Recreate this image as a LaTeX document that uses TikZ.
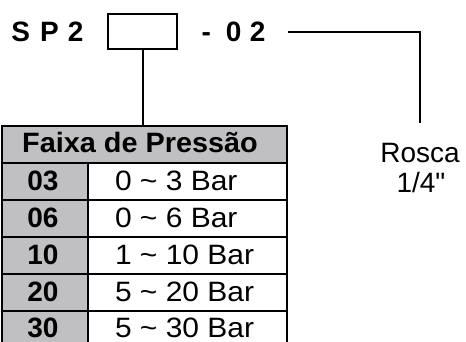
\documentclass[tikz,border=0pt]{standalone}
\usepackage{fontspec}
\setmainfont{Liberation Sans}
\newfontfamily\stfont[FakeStretch=1.03]{Liberation Sans}
\newfontfamily\valfont[FakeStretch=1.07]{Liberation Sans}
\newfontfamily\qfont[Ligatures=TeXOff]{Liberation Sans}
\definecolor{cellgray}{RGB}{192,192,195}
\begin{document}
\begin{tikzpicture}[x=1pt,y=-1pt,line width=2pt,
  codetxt/.style={inner sep=0pt,anchor=base west,font=\bfseries\fontsize{28}{30}\selectfont},
  cellbox/.style={draw,inner sep=0pt,anchor=north west,minimum height=37pt},
  headcell/.style={cellbox,fill=cellgray,minimum width=285pt},
  numcell/.style={cellbox,fill=cellgray,minimum width=86pt},
  valcell/.style={cellbox,fill=white,minimum width=199pt},
  headtxt/.style={inner sep=0pt,anchor=base,font=\stfont\bfseries\fontsize{28}{30}\selectfont},
  numtxt/.style={inner sep=0pt,anchor=base,font=\bfseries\fontsize{28}{30}\selectfont},
  valtxt/.style={inner sep=0pt,anchor=base west,font=\valfont\fontsize{28}{30}\selectfont},
  label/.style={inner sep=0pt,anchor=base,font=\qfont\fontsize{28}{30}\selectfont}
]
\useasboundingbox (0,0) rectangle (466,342);
\clip (0,0) rectangle (466,342);

% code line
\node[codetxt] (sp) at (10.5,42) {S\hspace{10pt}P\hspace{9pt}2};
\node[draw,inner sep=0pt,minimum width=69pt,minimum height=35pt] (box) at (142.5,31.5) {};
\node[codetxt] (suffix) at (200.5,42) {-\hspace{15pt}0\hspace{8.5pt}2};

% thread label
\node[label] (rosca) at (420,162.5) {Rosca};
\node[label] (thread) at (421,193) {1/4"};
\coordinate (rs) at (288,32);
\draw (rs) -| ([yshift=19.5pt]rosca.north);

% table cells
\node[headcell] (head) at (1,125) {};
\node[numcell] (n1) at (1,162) {};
\node[valcell] (v1) at (87,162) {};
\node[numcell] (n2) at (1,199) {};
\node[valcell] (v2) at (87,199) {};
\node[numcell] (n3) at (1,236) {};
\node[valcell] (v3) at (87,236) {};
\node[numcell] (n4) at (1,273) {};
\node[valcell] (v4) at (87,273) {};
\node[numcell] (n5) at (1,310) {};
\node[valcell] (v5) at (87,310) {};

% table texts
\node[headtxt] (headt) at (140,153) {Faixa de Pressão};
\node[numtxt] (n1t) at (43,190.5) {03};
\node[valtxt] (v1t) at (114,190.5) {0 \char"007E{} 3 Bar};
\node[numtxt] (n2t) at (43,227.5) {06};
\node[valtxt] (v2t) at (114,227.5) {0 \char"007E{} 6 Bar};
\node[numtxt] (n3t) at (43,264.5) {10};
\node[valtxt] (v3t) at (114,264.5) {1 \char"007E{} 10 Bar};
\node[numtxt] (n4t) at (43,301.5) {20};
\node[valtxt] (v4t) at (114,301.5) {5 \char"007E{} 20 Bar};
\node[numtxt] (n5t) at (43,337.5) {30};
\node[valtxt] (v5t) at (114,337.5) {5 \char"007E{} 30 Bar};

% connector box -> table
\draw (box.south) -- (box.south |- head.north);
\end{tikzpicture}
\end{document}
